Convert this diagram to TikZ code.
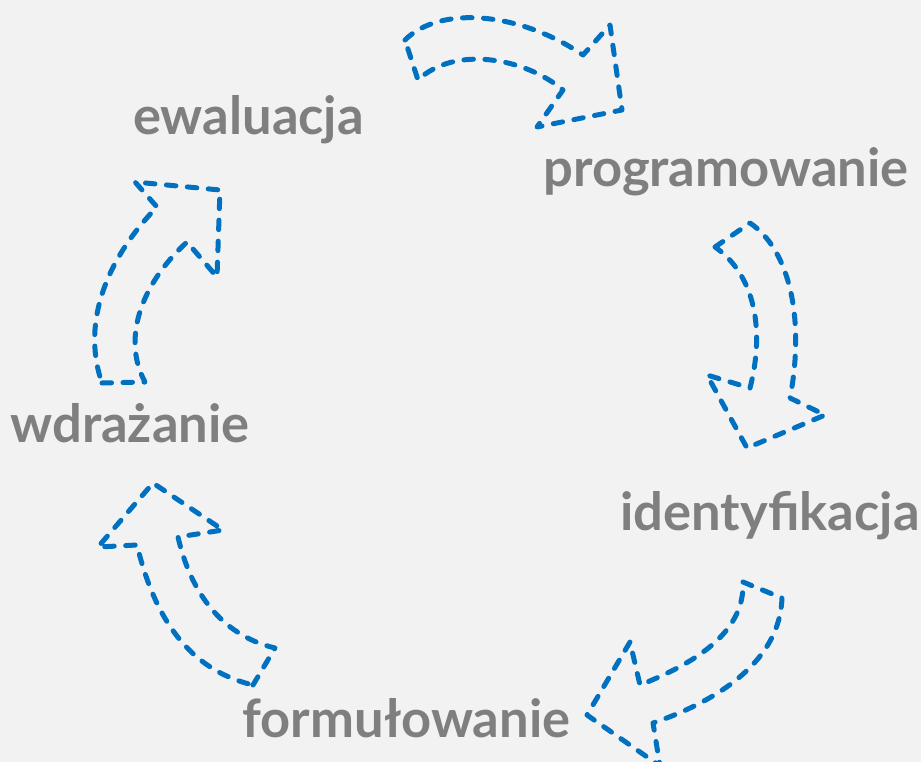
\documentclass[tikz,border=0pt]{standalone}
\usepackage{fontspec}
\setmainfont{Lato}
\definecolor{bgc}{HTML}{F2F2F2}
\definecolor{txtc}{HTML}{7F7F7F}
\definecolor{arrc}{HTML}{0070C0}
\begin{document}
\begin{tikzpicture}[x=1pt,y=-1pt,
  lbl/.style={anchor=base,inner sep=0pt,text=txtc,font=\fontsize{52.5}{56}\selectfont\bfseries},
  blockarrow/.style={draw=arrc,line width=5pt,line cap=round,line join=round,dash pattern=on 9.5pt off 11.5pt}]
\useasboundingbox (0,0) rectangle (921,762);
\fill[bgc] (0,0) rectangle (921,762);
\node[lbl] (ewal) at (248.5,135) {ewaluacja};
\node[lbl] (prog) at (726,187) {programowanie};
\node[lbl] (wdra) at (130,442) {wdrażanie};
\node[lbl] (iden) at (770,530) {identyfikacja};
\node[lbl] (form) at (406.5,737) {formułowanie};
% top arrow
\draw[blockarrow] (405,40) .. controls (440,5) and (520,12) .. (583,55) -- (610,25) -- (622,110) -- (537,127) -- (563,90) .. controls (525,58) and (455,45) .. (418,80) -- cycle;
% right arrow
\draw[blockarrow] (715,247) -- (750,223) .. controls (790,250) and (805,320) .. (790,398) -- (825,415) -- (747,448) -- (707,375) -- (750,388) .. controls (765,330) and (755,275) .. cycle;
% bottom right arrow
\draw[blockarrow] (743,582) -- (782,598) .. controls (780,660) and (720,700) .. (653,723) -- (660,766) -- (587,715) -- (630,642) -- (640,685) .. controls (690,665) and (745,635) .. cycle;
% bottom left arrow
\draw[blockarrow] (253,685) -- (275,648) .. controls (220,635) and (190,590) .. (178,537) -- (223,530) -- (153,483) -- (98,547) -- (137,545) .. controls (155,620) and (190,670) .. cycle;
% left arrow
\draw[blockarrow] (102,383) -- (145,382) .. controls (122,340) and (140,285) .. (187,242) -- (217,277) -- (220,190) -- (135,182) -- (157,207) .. controls (110,255) and (80,320) .. cycle;
\end{tikzpicture}
\end{document}
